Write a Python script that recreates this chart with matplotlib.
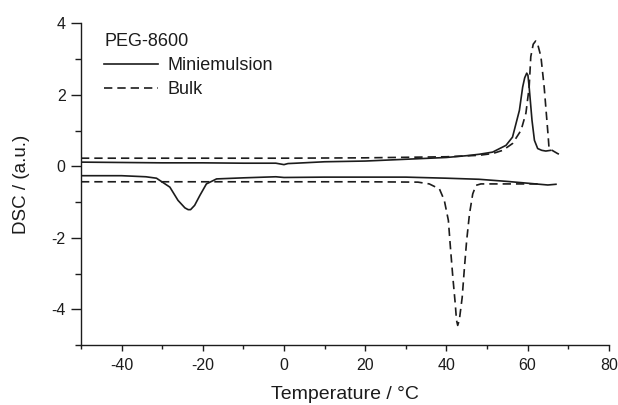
import matplotlib
matplotlib.use("Agg")
import matplotlib.pyplot as plt
from matplotlib.ticker import MultipleLocator

plt.rcParams['font.family'] = ['Liberation Sans', 'DejaVu Sans']
plt.rcParams['axes.unicode_minus'] = False

# Heating scans (endotherms up)
heat_mini_t = [-50, -40, -30, -20, -10, -2, 0, 1, 3, 10, 20, 30, 40, 45, 48.1, 51.4,
               54.7, 56.3, 58.0, 58.8, 59.3, 59.8, 60.1, 60.4, 61.1, 61.7, 62.5, 63.5, 64.5, 65.7]
heat_mini_y = [0.12, 0.11, 0.10, 0.10, 0.09, 0.09, 0.05, 0.08, 0.09, 0.13, 0.15, 0.20, 0.25, 0.30,
               0.34, 0.40, 0.59, 0.82, 1.57, 2.22, 2.48, 2.61, 2.55, 2.22, 1.29, 0.73, 0.50, 0.45,
               0.43, 0.45]

heat_bulk_t = [-50, -30, -10, 0, 20, 40, 48, 51.4, 53.9, 56.3, 58.4, 59.6, 60.4, 60.8, 61.4,
               62.0, 62.5, 63.3, 64.1, 64.7, 65.1, 65.3, 67.4, 68.0]
heat_bulk_y = [0.23, 0.23, 0.23, 0.23, 0.24, 0.27, 0.31, 0.36, 0.45, 0.64, 1.01, 1.49, 2.22, 3.07,
               3.42, 3.51, 3.42, 3.07, 2.22, 1.38, 0.82, 0.50, 0.36, 0.33]

# Cooling scans (exotherms down)
cool_mini_t = [-50, -40, -34, -31.4, -28.1, -26.1, -24.4, -23.6, -23.0, -22.0, -20.7, -19.1,
               -16.6, -10, -2, 0, 10, 20, 30, 40, 48, 55, 60, 65, 67]
cool_mini_y = [-0.26, -0.26, -0.29, -0.33, -0.58, -0.95, -1.16, -1.21, -1.21, -1.09, -0.81, -0.49,
               -0.35, -0.32, -0.29, -0.31, -0.30, -0.30, -0.30, -0.33, -0.36, -0.42, -0.47, -0.52,
               -0.50]

cool_bulk_t = [-50, -20, 0, 20, 33, 35.8, 38.3, 39.5, 40.5, 41.0, 41.6, 42.2, 42.5, 42.8, 43.2,
               43.9, 44.4, 45.0, 45.7, 46.5, 47.3, 48.5, 53.0, 58.0, 63.6]
cool_bulk_y = [-0.43, -0.43, -0.43, -0.43, -0.44, -0.49, -0.63, -0.95, -1.51, -2.26, -3.10, -3.85,
               -4.30, -4.45, -4.30, -3.67, -2.92, -2.08, -1.33, -0.77, -0.53, -0.49, -0.49, -0.49,
               -0.49]

ink = '#1c1c1c'
fig = plt.figure(figsize=(6.18, 4.05), dpi=100)
ax = fig.add_axes([0.131, 0.148, 0.854, 0.794])

dash = (0, (5, 3))
ax.plot(heat_mini_t, heat_mini_y, color=ink, lw=1.2, label='Miniemulsion')
ax.plot(heat_bulk_t, heat_bulk_y, color=ink, lw=1.2, linestyle=dash, label='Bulk')
ax.plot(cool_mini_t, cool_mini_y, color=ink, lw=1.2)
ax.plot(cool_bulk_t, cool_bulk_y, color=ink, lw=1.2, linestyle=dash)

ax.set_xlim(-50, 80)
ax.set_ylim(-5, 4)
ax.xaxis.set_major_locator(MultipleLocator(20))
ax.xaxis.set_minor_locator(MultipleLocator(10))
ax.yaxis.set_major_locator(MultipleLocator(2))
ax.yaxis.set_minor_locator(MultipleLocator(1))

for side in ('top', 'right'):
    ax.spines[side].set_visible(False)
for side in ('left', 'bottom'):
    ax.spines[side].set_linewidth(1.0)
    ax.spines[side].set_color(ink)

ax.tick_params(axis='x', which='major', direction='out', length=4, width=1.0, pad=5,
               labelsize=11.5, colors=ink)
ax.tick_params(axis='x', which='minor', direction='out', length=3, width=1.0, colors=ink)
ax.tick_params(axis='y', which='major', direction='out', length=7, width=1.0, pad=4,
               labelsize=11.5, colors=ink)
ax.tick_params(axis='y', which='minor', direction='out', length=4, width=1.0, colors=ink)

ax.set_xlabel('Temperature / °C', fontsize=14, color=ink, labelpad=10)
ax.set_ylabel('DSC / (a.u.)', fontsize=13.5, color=ink, labelpad=15)

leg = ax.legend(title='PEG-8600', loc='upper left', bbox_to_anchor=(0.02, 1.01), frameon=False,
                fontsize=13, title_fontsize=13, alignment='left', handlelength=3.0,
                handletextpad=0.5, labelspacing=0.4, borderpad=0.2)
leg._legend_box.sep = 5
for t in leg.get_texts():
    t.set_color(ink)
leg.get_title().set_color(ink)

fig.savefig('out.png', dpi=100)
